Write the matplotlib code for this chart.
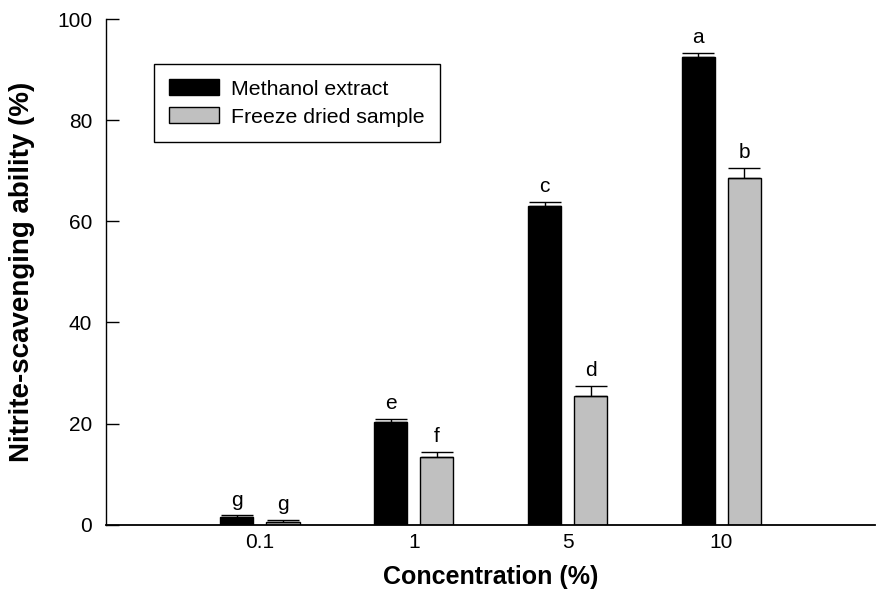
import matplotlib
matplotlib.use("Agg")
import matplotlib.pyplot as plt
import numpy as np

# data
concentrations = ["0.1", "1", "5", "10"]
methanol = [1.5, 20.3, 63.0, 92.5]
methanol_err = [0.4, 0.7, 0.9, 0.8]
freeze = [0.5, 13.5, 25.4, 68.6]
freeze_err = [0.5, 0.9, 2.1, 2.0]
methanol_letters = ["g", "e", "c", "a"]
freeze_letters = ["g", "f", "d", "b"]

plt.rcParams["font.family"] = ["Liberation Sans", "DejaVu Sans"]

fig = plt.figure(figsize=(8.77, 5.95), dpi=100)
ax = fig.add_axes([0.121, 0.118, 0.877, 0.850])

x = np.arange(1, len(concentrations) + 1)
width = 0.216
offset = 0.15

ax.bar(x - offset, methanol, width=width, color="black", edgecolor="black",
       linewidth=1, label="Methanol extract")
ax.bar(x + offset, freeze, width=width, color="#c0c0c0", edgecolor="black",
       linewidth=1, label="Freeze dried sample")

# only the upper half of the error bars
ax.errorbar(x - offset, methanol, yerr=[np.zeros(4), methanol_err], fmt="none",
            ecolor="black", elinewidth=1, capsize=11.5, capthick=1)
ax.errorbar(x + offset, freeze, yerr=[np.zeros(4), freeze_err], fmt="none",
            ecolor="black", elinewidth=1, capsize=11.5, capthick=1)

# significance letters
for xi, v, e, t in zip(x - offset, methanol, methanol_err, methanol_letters):
    ax.annotate(t, (xi, v + e), xytext=(0, 4), textcoords="offset points",
                ha="center", va="bottom", fontsize=15)
for xi, v, e, t in zip(x + offset, freeze, freeze_err, freeze_letters):
    ax.annotate(t, (xi, v + e), xytext=(0, 4), textcoords="offset points",
                ha="center", va="bottom", fontsize=15)

ax.set_xlim(0, 5)
ax.set_ylim(0, 100)
ax.set_yticks([0, 20, 40, 60, 80, 100])
ax.set_xticks(x)
ax.set_xticklabels(concentrations)
ax.tick_params(axis="y", direction="in", length=9, width=1, pad=10, labelsize=15)
ax.tick_params(axis="x", length=0, pad=6, labelsize=15)

ax.spines["top"].set_visible(False)
ax.spines["right"].set_visible(False)
ax.spines["left"].set_linewidth(1)
ax.spines["bottom"].set_linewidth(1.3)

ax.set_xlabel("Concentration (%)", fontsize=18, fontweight="bold")
ax.set_ylabel("Nitrite-scavenging ability (%)", fontsize=20, fontweight="bold")
ax.xaxis.set_label_coords(0.5, -0.08)
ax.yaxis.set_label_coords(-0.092, 0.5)

leg = ax.legend(loc="upper left", bbox_to_anchor=(0.0624, 0.911), borderaxespad=0,
                fontsize=15.3, fancybox=False, framealpha=1, edgecolor="black",
                handlelength=2.35, handleheight=0.78, handletextpad=0.56,
                borderpad=0.72, labelspacing=0.4)
leg.get_frame().set_linewidth(1)

plt.savefig("out.png", dpi=100)
